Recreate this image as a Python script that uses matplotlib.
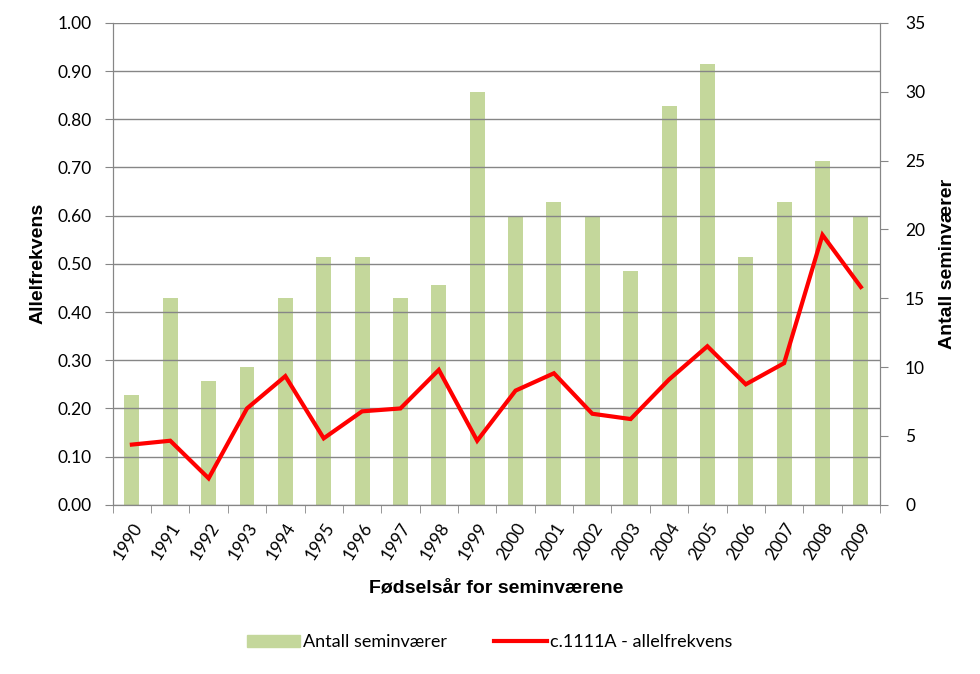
import numpy as np
import matplotlib
matplotlib.use("Agg")
import matplotlib.pyplot as plt
from matplotlib.patches import Patch
from matplotlib.lines import Line2D

# data
years = ["1990", "1991", "1992", "1993", "1994", "1995", "1996", "1997", "1998", "1999",
         "2000", "2001", "2002", "2003", "2004", "2005", "2006", "2007", "2008", "2009"]
antall = [8, 15, 9, 10, 15, 18, 18, 15, 16, 30, 21, 22, 21, 17, 29, 32, 18, 22, 25, 21]
allelfrekvens = [0.125, 0.133, 0.055, 0.200, 0.267, 0.138, 0.194, 0.200, 0.280, 0.133,
                 0.237, 0.273, 0.189, 0.178, 0.260, 0.329, 0.250, 0.294, 0.560, 0.452]

tick_font = "Lato"
label_font = "Liberation Sans"
grey = "#868686"

fig = plt.figure(figsize=(9.8, 6.74), dpi=100)
ax = fig.add_axes([0.115, 0.251, 0.783, 0.715])
ax2 = ax.twinx()

x = np.arange(len(years))

# bars on right axis, line on left axis -> draw bars behind
ax2.bar(x, antall, width=0.39, color="#C4D79B", zorder=1)
ax2.set_ylim(0, 35)
ax2.set_yticks(range(0, 36, 5))

ax.set_ylim(0, 1.0)
ax.set_yticks(np.arange(0, 1.01, 0.1))
ax.set_yticklabels(["%.2f" % v for v in np.arange(0, 1.01, 0.1)])
ax.grid(axis="y", color=grey, linewidth=1)
ax.set_axisbelow(True)

# put the line axis on top of the bar axis
ax.set_zorder(ax2.get_zorder() + 1)
ax.patch.set_visible(False)
ax.plot(x, allelfrekvens, color="#FF0000", linewidth=3, solid_joinstyle="miter")

ax.set_xlim(-0.5, len(years) - 0.5)
ax.set_xticks(x)
ax.set_xticklabels(years, rotation=58, ha="right", rotation_mode="anchor")
ax.set_xticks(np.arange(-0.5, len(years), 1), minor=True)
ax.tick_params(axis="x", which="major", length=0, pad=11)
ax.tick_params(axis="x", which="minor", length=6, color=grey, direction="out")
ax.tick_params(axis="y", length=6, color=grey, direction="out", pad=9)
ax2.tick_params(axis="y", length=6, color=grey, direction="out", pad=12)

for a in (ax, ax2):
    for s in a.spines.values():
        s.set_color(grey)
    a.spines["top"].set_visible(False)
    for lab in a.get_xticklabels() + a.get_yticklabels():
        lab.set_fontfamily(tick_font)
        lab.set_fontsize(12.5)

ax.set_ylabel("Allelfrekvens", fontfamily=label_font, fontweight="bold", fontsize=14, labelpad=8)
ax2.set_ylabel("Antall seminværer", fontfamily=label_font, fontweight="bold", fontsize=14, labelpad=10)
ax.set_xlabel("Fødselsår for seminværene", fontfamily=label_font, fontweight="bold", fontsize=14, labelpad=12)

handles = [Patch(color="#C4D79B"), Line2D([], [], color="#FF0000", linewidth=3)]
fig.legend(handles, ["Antall seminværer", "c.1111A - allelfrekvens"], loc="center",
           bbox_to_anchor=(0.5, 0.047), ncol=2, frameon=False, handlelength=2.9,
           handletextpad=0.2, columnspacing=2.6, prop={"family": tick_font, "size": 13})

fig.savefig("out.png", dpi=100)
